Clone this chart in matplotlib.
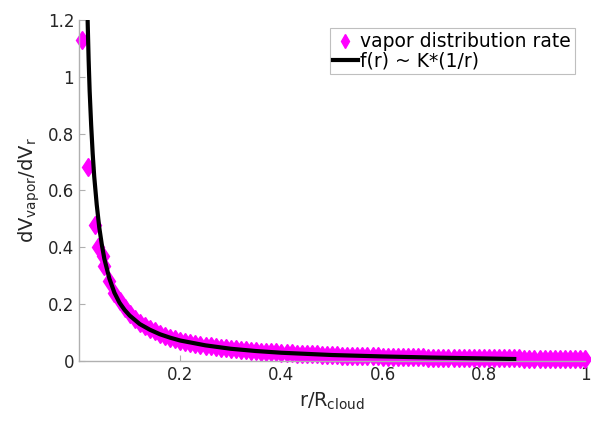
import numpy as np
import matplotlib
matplotlib.use('Agg')
import matplotlib.pyplot as plt

# Messwerte (dichte Reihe + erste einzelne Punkte)
r_sparse = [0.006, 0.018, 0.032, 0.038, 0.047]
rate_sparse = [1.13, 0.684, 0.48, 0.40, 0.37]

r_dense = [round(0.05 + 0.01 * i, 2) for i in range(96)]
rate_dense = [
    0.335, 0.28, 0.24, 0.21, 0.185, 0.165, 0.148, 0.135, 0.124, 0.114,
    0.104, 0.096, 0.089, 0.082, 0.076, 0.071, 0.067, 0.063, 0.060, 0.057,
    0.054, 0.051, 0.049, 0.047, 0.045, 0.043, 0.041, 0.039, 0.037, 0.036,
    0.034, 0.033, 0.032, 0.031, 0.030, 0.029, 0.028, 0.027, 0.026, 0.025,
    0.024, 0.024, 0.023, 0.022, 0.021, 0.021, 0.020, 0.019, 0.019, 0.018,
    0.018, 0.017, 0.017, 0.016, 0.016, 0.015, 0.015, 0.015, 0.014, 0.014,
    0.014, 0.013, 0.013, 0.013, 0.012, 0.012, 0.012, 0.012, 0.011, 0.011,
    0.011, 0.011, 0.010, 0.010, 0.010, 0.010, 0.010, 0.009, 0.009, 0.009,
    0.009, 0.009, 0.009, 0.008, 0.008, 0.008, 0.008, 0.008, 0.008, 0.008,
    0.008, 0.007, 0.007, 0.007, 0.007, 0.007,
]

# Fit-Kurve f(r) ~ K*(1/r)
r_fit = [0.017, 0.019, 0.021, 0.024, 0.027, 0.03, 0.035, 0.04, 0.045, 0.05,
         0.06, 0.07, 0.08, 0.09, 0.1, 0.12, 0.14, 0.16, 0.18, 0.2, 0.25,
         0.3, 0.35, 0.4, 0.5, 0.6, 0.7, 0.8, 0.86]
f_fit = [1.2, 1.06, 0.95, 0.83, 0.73, 0.65, 0.55, 0.47, 0.41, 0.36,
         0.29, 0.24, 0.205, 0.18, 0.16, 0.13, 0.11, 0.094, 0.082, 0.072, 0.055,
         0.043, 0.035, 0.029, 0.021, 0.016, 0.012, 0.009, 0.007]

xticks = [0.2, 0.4, 0.6, 0.8, 1]
yticks = [0, 0.2, 0.4, 0.6, 0.8, 1, 1.2]

fig = plt.figure(figsize=(5.91, 4.23), dpi=100)
ax = fig.add_axes([0.1337, 0.1466, 0.8563, 0.8062])

r_all = r_sparse + r_dense
rate_all = rate_sparse + rate_dense
ax.plot(r_all, rate_all, linestyle='none', marker='d', markersize=9.5,
        color='#ff00ff', markeredgecolor='#ff00ff', clip_on=False,
        label='vapor distribution rate', zorder=2)
ax.plot(r_fit, f_fit, color='black', linewidth=3,
        label='f(r) ~ K*(1/r)', zorder=3)

ax.set_xlim(0, 1)
ax.set_ylim(0, 1.2)
ax.set_xticks(xticks)
ax.set_xticklabels(['0.2', '0.4', '0.6', '0.8', '1'])
ax.set_yticks(yticks)
ax.set_yticklabels(['0', '0.2', '0.4', '0.6', '0.8', '1', '1.2'])

for side in ['top', 'right']:
    ax.spines[side].set_visible(False)
for side in ['left', 'bottom']:
    ax.spines[side].set_color('#b0b0b0')
    ax.spines[side].set_linewidth(1)
ax.tick_params(direction='in', length=4, color='#b0b0b0',
               labelcolor='#262626', labelsize=12)

ax.set_xlabel('r/R$_{\\mathregular{cloud}}$', fontsize=14, color='#262626',
              labelpad=5)
ax.set_ylabel('dV$_{\\mathregular{vapor}}$/dV$_{\\mathregular{r}}$',
              fontsize=14, color='#262626')

leg = ax.legend(loc='upper right', bbox_to_anchor=(0.98, 0.975),
                fontsize=13.5, frameon=True, fancybox=False,
                labelspacing=0.0, handlelength=1.3, handletextpad=0.15,
                borderpad=0.2, borderaxespad=0, markerscale=0.75)
leg.get_frame().set_edgecolor('#b0b0b0')
leg.get_frame().set_linewidth(0.8)

fig.savefig('out.png', dpi=100)
